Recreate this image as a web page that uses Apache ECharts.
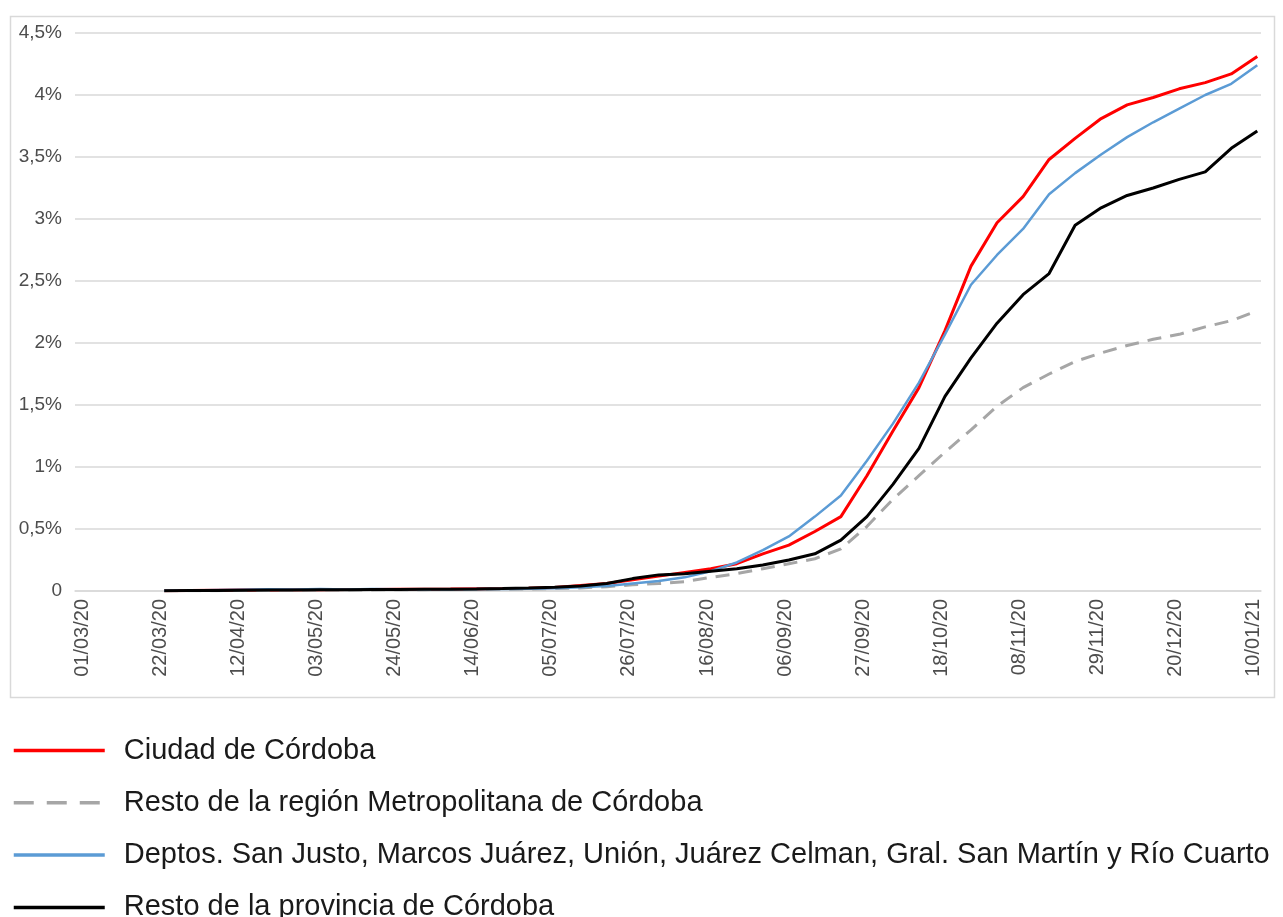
<!DOCTYPE html>
<html>
<head>
<meta charset="utf-8">
<script src="https://cdn.jsdelivr.net/npm/echarts@6/dist/echarts.min.js"></script>
<style>
html,body{margin:0;padding:0;background:#fff;}
#chart{width:1283px;height:917px;}
</style>
</head>
<body>
<div id="chart"></div>
<script>
// ---- data ----
const seriesNames = [
  'Ciudad de Córdoba',
  'Resto de la región Metropolitana de Córdoba',
  'Deptos. San Justo, Marcos Juárez, Unión, Juárez Celman, Gral. San Martín y Río Cuarto',
  'Resto de la provincia de Córdoba'
];
const tickLabels = ['01/03/20','22/03/20','12/04/20','03/05/20','24/05/20','14/06/20','05/07/20','26/07/20',
  '16/08/20','06/09/20','27/09/20','18/10/20','08/11/20','29/11/20','20/12/20','10/01/21'];
const dates = ['23/03/20','30/03/20','06/04/20','13/04/20','20/04/20','27/04/20','04/05/20','11/05/20',
  '18/05/20','25/05/20','01/06/20','08/06/20','15/06/20','22/06/20','29/06/20','06/07/20','13/07/20',
  '20/07/20','27/07/20','03/08/20','10/08/20','17/08/20','24/08/20','31/08/20','07/09/20','14/09/20',
  '21/09/20','28/09/20','05/10/20','12/10/20','19/10/20','26/10/20','02/11/20','09/11/20','16/11/20',
  '23/11/20','30/11/20','07/12/20','14/12/20','21/12/20','28/12/20','04/01/21','11/01/21'];
const ciudad = [0.002,0.004,0.006,0.008,0.009,0.010,0.011,0.012,0.013,0.014,0.015,0.016,0.018,0.020,0.023,0.028,
  0.045,0.06,0.09,0.12,0.15,0.18,0.22,0.30,0.37,0.48,0.60,0.93,1.29,1.64,2.10,2.62,2.97,3.18,3.48,3.65,3.81,
  3.92,3.98,4.05,4.10,4.17,4.31];
const restoRegion = [0.001,0.002,0.003,0.004,0.005,0.006,0.007,0.008,0.009,0.010,0.011,0.012,0.013,0.014,0.016,0.020,
  0.025,0.035,0.05,0.06,0.075,0.11,0.14,0.18,0.22,0.26,0.34,0.52,0.74,0.93,1.12,1.30,1.49,1.64,1.75,1.85,1.92,
  1.98,2.03,2.07,2.13,2.18,2.26];
const deptos = [0.003,0.005,0.008,0.011,0.014,0.012,0.016,0.013,0.017,0.014,0.015,0.015,0.016,0.017,0.019,0.022,
  0.03,0.04,0.06,0.08,0.11,0.16,0.23,0.33,0.44,0.60,0.77,1.05,1.35,1.68,2.07,2.47,2.71,2.92,3.20,3.37,3.52,
  3.66,3.78,3.89,4.00,4.09,4.24];
const restoProvincia = [0.002,0.004,0.005,0.007,0.008,0.009,0.010,0.011,0.012,0.013,0.014,0.015,0.017,0.020,0.024,0.030,
  0.04,0.06,0.10,0.13,0.14,0.16,0.18,0.21,0.25,0.30,0.41,0.60,0.86,1.15,1.57,1.88,2.16,2.39,2.56,2.95,3.09,
  3.19,3.25,3.32,3.38,3.57,3.71];

// ---- helpers ----
function dayOf(s){
  const p = s.split('/');
  return Math.round((Date.UTC(2000 + Number(p[2]), Number(p[1]) - 1, Number(p[0])) - Date.UTC(2020, 2, 1)) / 86400000);
}
const tickDays = tickLabels.map(dayOf);
const xs = dates.map(dayOf);
function pairs(vals){ return vals.map((v, i) => [xs[i], v]); }
function labelFor(d){
  const i = tickDays.indexOf(Math.round(d));
  return i >= 0 ? tickLabels[i] : '';
}

const chart = echarts.init(document.getElementById('chart'), null, {renderer: 'canvas'});
const font = 'Liberation Sans, Arial, sans-serif';
const legends = seriesNames.map((n, i) => ({
  orient: 'vertical', left: 12, top: 736 + 52.3 * i, padding: 0,
  itemWidth: 91, itemHeight: 14,
  itemStyle: {opacity: 0},
  lineStyle: i === 1 ? {width: 3.5, type: [20, 13]} : {width: 3.5},
  textStyle: {fontSize: 29, fontFamily: font, color: '#1a1a1a', lineHeight: 22, padding: [0, 0, 0, 14]},
  data: [n]
}));
chart.setOption({
  animation: false,
  backgroundColor: '#fff',
  graphic: [{
    type: 'rect', left: 8, top: 14, silent: true, z: -10,
    shape: {width: 1264, height: 681},
    style: {fill: 'none', stroke: '#d9d9d9', lineWidth: 1.5}
  }],
  grid: {left: 75, right: 22, top: 33, bottom: 326, containLabel: false},
  xAxis: {
    type: 'value', min: -2, max: 317,
    axisLine: {show: true, lineStyle: {color: '#d9d9d9', width: 1.5}},
    axisTick: {show: false},
    splitLine: {show: false},
    axisLabel: {
      customValues: tickDays,
      rotate: 90, margin: 8,
      color: '#4d4d4d', fontSize: 20, fontFamily: font,
      formatter: labelFor
    }
  },
  yAxis: {
    type: 'value', min: 0, max: 4.5, interval: 0.5,
    axisLine: {show: false}, axisTick: {show: false},
    splitLine: {lineStyle: {color: '#d9d9d9', width: 1.5}},
    axisLabel: {
      margin: 13, color: '#4d4d4d', fontSize: 19, fontFamily: font,
      formatter: v => v === 0 ? '0' : String(v).replace('.', ',') + '%'
    }
  },
  legend: legends,
  series: [
    {name: seriesNames[0], type: 'line', data: pairs(ciudad), symbol: 'none',
      lineStyle: {color: '#ff0000', width: 3}, itemStyle: {color: '#ff0000'}},
    {name: seriesNames[1], type: 'line', data: pairs(restoRegion), symbol: 'none',
      lineStyle: {color: '#a6a6a6', width: 3, type: [14, 9]}, itemStyle: {color: '#a6a6a6'}},
    {name: seriesNames[2], type: 'line', data: pairs(deptos), symbol: 'none',
      lineStyle: {color: '#5b9bd5', width: 2.5}, itemStyle: {color: '#5b9bd5'}},
    {name: seriesNames[3], type: 'line', data: pairs(restoProvincia), symbol: 'none',
      lineStyle: {color: '#000000', width: 3}, itemStyle: {color: '#000000'}}
  ]
});
</script>
</body>
</html>
